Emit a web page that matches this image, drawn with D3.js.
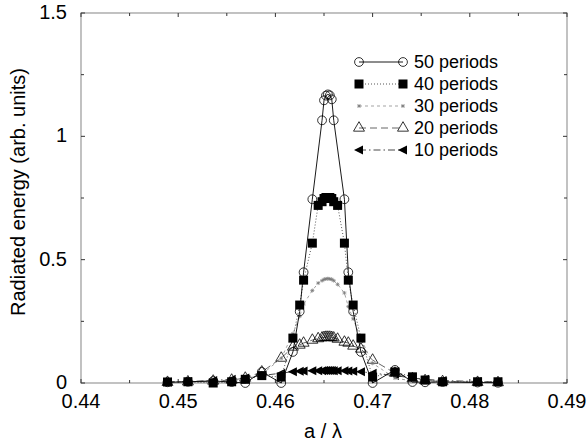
<!DOCTYPE html>
<html>
<head>
<meta charset="utf-8">
<script src="https://cdn.jsdelivr.net/npm/d3@7"></script>
<style>
  body { margin: 0; background: #fff; }
  svg { display: block; }
  text { font-family: "Liberation Sans", Arial, Helvetica, sans-serif; fill: #000; }
</style>
</head>
<body>
<svg id="chart" width="587" height="443"></svg>
<script>
// a / lambda sample positions (shared by all series, null = no sample)
var xs = [0.4489, 0.4510, 0.4536, 0.4555, 0.4569, 0.4586, 0.4606, 0.4618, 0.4625, 0.4629,
          0.4638, 0.4644, 0.4648, 0.4650, 0.4652, 0.4654, 0.4656, 0.4658, 0.4660, 0.4664,
          0.4671, 0.4675, 0.4680, 0.4688, 0.4700, 0.4723, 0.4741, 0.4754, 0.4772, 0.4808, 0.4829];

var p50 = [0.003, 0.005, 0.008, 0.004, 0.000, 0.045, 0.000, 0.126, 0.290, 0.449,
           0.745, null, 1.065, 1.146, 1.165, 1.170, 1.166, 1.150, 1.065, null,
           0.745, 0.449, 0.290, 0.126, 0.000, 0.053, 0.004, 0.003, 0.004, 0.002, 0.001];
var p40 = [0.004, 0.005, 0.000, 0.005, 0.015, 0.030, 0.024, 0.182, 0.316, 0.417,
           0.567, 0.720, 0.735, 0.748, 0.752, 0.750, 0.752, 0.748, 0.735, 0.720,
           0.567, 0.417, 0.316, 0.182, 0.024, 0.045, 0.025, 0.012, 0.005, 0.005, 0.005];
var p30 = [0.002, 0.003, 0.005, 0.008, 0.015, 0.035, 0.100, 0.200, 0.270, 0.320,
           0.375, 0.405, 0.415, 0.420, 0.422, 0.423, 0.422, 0.420, 0.415, 0.400,
           0.365, 0.310, 0.260, 0.180, 0.080, 0.020, 0.008, 0.004, 0.002, 0.002, 0.001];
var p20 = [0.003, 0.005, 0.008, 0.012, 0.020, 0.045, 0.101, 0.146, 0.154, 0.162,
           0.174, 0.180, 0.183, 0.185, 0.186, 0.186, 0.186, 0.185, 0.183, 0.178,
           0.166, 0.162, 0.150, 0.138, 0.093, 0.040, 0.018, 0.010, 0.006, 0.003, 0.002];
var p10 = [0.004, 0.006, 0.010, 0.015, 0.020, 0.030, 0.040, 0.046, 0.048, 0.049,
           0.050, 0.050, 0.050, 0.051, 0.051, 0.051, 0.051, 0.051, 0.050, 0.050,
           0.050, 0.049, 0.048, 0.046, 0.040, 0.030, 0.020, 0.015, 0.010, 0.006, 0.004];

var seriesNames = ["50 periods", "40 periods", "30 periods", "20 periods", "10 periods"];
var xTicks = [0.44, 0.45, 0.46, 0.47, 0.48, 0.49];
var yTicks = [0, 0.5, 1, 1.5];

var svg = d3.select("#chart");
var mLeft = 81, mRight = 567, mTop = 13, mBottom = 383;

var x = d3.scaleLinear().domain([0.44, 0.49]).range([mLeft, mRight]);
var y = d3.scaleLinear().domain([0, 1.5]).range([mBottom, mTop]);

// styles per series
var styles = [
  { data: p50, dash: null,        color: "#000", marker: "circle" },
  { data: p40, dash: "1,2",       color: "#444", marker: "square" },
  { data: p30, dash: "3,3",       color: "#999", marker: "star" },
  { data: p20, dash: "7,4",       color: "#555", marker: "triangle" },
  { data: p10, dash: "7,3,1.5,3", color: "#333", marker: "left" }
];

function drawMarker(g, type, cx, cy) {
  if (type == "circle") {
    g.append("circle").attr("cx", cx).attr("cy", cy).attr("r", 4.4)
      .attr("fill", "none").attr("stroke", "#000").attr("stroke-width", 0.8);
  } else if (type == "square") {
    g.append("rect").attr("x", cx - 4.5).attr("y", cy - 4.5).attr("width", 9).attr("height", 9)
      .attr("fill", "#000");
  } else if (type == "triangle") {
    g.append("path").attr("d", d3.symbol().type(d3.symbolTriangle).size(52)())
      .attr("transform", "translate(" + cx + "," + cy + ")")
      .attr("fill", "none").attr("stroke", "#000").attr("stroke-width", 0.8);
  } else if (type == "left") {
    g.append("path").attr("d", "M-5,0L4,-4.5L4,4.5Z")
      .attr("transform", "translate(" + cx + "," + cy + ")")
      .attr("fill", "#000");
  } else if (type == "star") {
    g.append("path").attr("d", "M-2,0H2M0,-2V2M-1.5,-1.5L1.5,1.5M-1.5,1.5L1.5,-1.5")
      .attr("transform", "translate(" + cx + "," + cy + ")")
      .attr("stroke", "#777").attr("stroke-width", 0.7);
  }
}

// frame
svg.append("rect").attr("x", mLeft).attr("y", mTop)
  .attr("width", mRight - mLeft).attr("height", mBottom - mTop)
  .attr("fill", "none").attr("stroke", "#999").attr("stroke-width", 1.2);

// ticks (inward, mirrored)
var tickG = svg.append("g").attr("stroke", "#333").attr("stroke-width", 1);
d3.range(0.44, 0.4901, 0.005).forEach(function(t, i) {
  var len = i % 2 == 0 ? 4 : 3;
  tickG.append("line").attr("x1", x(t)).attr("x2", x(t)).attr("y1", mBottom).attr("y2", mBottom - len);
  tickG.append("line").attr("x1", x(t)).attr("x2", x(t)).attr("y1", mTop).attr("y2", mTop + len);
});
d3.range(0, 1.501, 0.25).forEach(function(t, i) {
  var len = i % 2 == 0 ? 4 : 3;
  tickG.append("line").attr("y1", y(t)).attr("y2", y(t)).attr("x1", mLeft).attr("x2", mLeft + len);
  tickG.append("line").attr("y1", y(t)).attr("y2", y(t)).attr("x1", mRight).attr("x2", mRight - len);
});

// tick labels
svg.append("g").selectAll("text").data(xTicks).enter().append("text")
  .attr("x", function(d) { return x(d); }).attr("y", 408)
  .attr("text-anchor", "middle").attr("font-size", 20)
  .text(function(d) { return d.toFixed(2); });
svg.append("g").selectAll("text").data(yTicks).enter().append("text")
  .attr("x", 67).attr("y", function(d) { return y(d) + 6; })
  .attr("text-anchor", "end").attr("font-size", 20)
  .text(function(d) { return d3.format("")(d); });

// axis titles
svg.append("text").attr("x", 323).attr("y", 438).attr("text-anchor", "middle")
  .attr("font-size", 20).text("a / λ");
svg.append("text").attr("transform", "translate(25,192) rotate(-90)")
  .attr("text-anchor", "middle").attr("font-size", 20)
  .text("Radiated energy (arb. units)");

// series, drawn from 10 up to 50 so 50 is on top
var line = d3.line().x(function(d) { return x(d[0]); }).y(function(d) { return y(d[1]); });
styles.slice().reverse().forEach(function(s) {
  var pts = [];
  xs.forEach(function(xv, i) { if (s.data[i] != null) pts.push([xv, s.data[i]]); });
  var g = svg.append("g");
  g.append("path").datum(pts).attr("d", line)
    .attr("fill", "none").attr("stroke", s.color).attr("stroke-width", 0.9)
    .attr("stroke-dasharray", s.dash);
  pts.forEach(function(p) { drawMarker(g, s.marker, x(p[0]), y(p[1])); });
});

// legend
var legendY = [62, 84, 106, 128, 150];
styles.forEach(function(s, i) {
  var g = svg.append("g");
  var ly = legendY[i];
  g.append("line").attr("x1", 359).attr("x2", 403).attr("y1", ly).attr("y2", ly)
    .attr("stroke", s.color).attr("stroke-width", 0.9).attr("stroke-dasharray", s.dash);
  drawMarker(g, s.marker, 359, ly);
  drawMarker(g, s.marker, 403, ly);
  g.append("text").attr("x", 414).attr("y", ly + 6).attr("font-size", 18)
    .text(seriesNames[i]);
});
</script>
</body>
</html>
